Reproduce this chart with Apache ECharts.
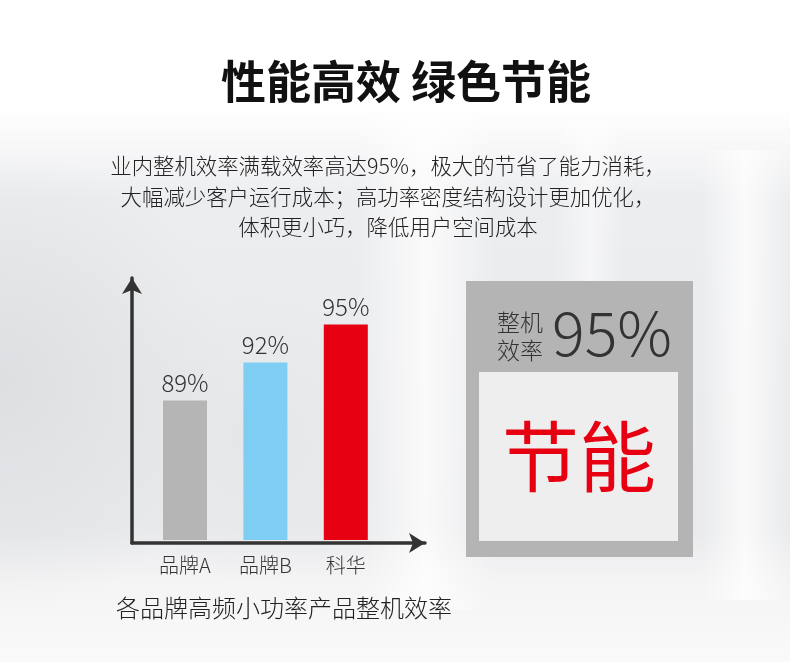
<!DOCTYPE html>
<html>
<head>
<meta charset="utf-8">
<script src="https://cdn.jsdelivr.net/npm/echarts@6/dist/echarts.min.js"></script>
<style>html,body{margin:0;padding:0;background:#fff}#c{width:790px;height:662px}</style>
</head>
<body>
<div id="c"></div>
<script>
var categories = ['品牌A', '品牌B', '科华'];
var efficiency = [89, 92, 95];
var barColors = ['#b5b5b5', '#7ecef4', '#e60012'];
var titleText = '性能高效 绿色节能';
var descLines = ['业内整机效率满载效率高达95%，极大的节省了能力消耗，', '大幅减少客户运行成本；高功率密度结构设计更加优化，', '体积更小巧，降低用户空间成本'];
var captionText = '各品牌高频小功率产品整机效率';
var badgeLabel = ['整机', '效率'];
var badgeValue = '95%';
var badgeWord = '节能';

var FONT = "'Noto Sans CJK SC','Noto Sans',sans-serif";
var chart = echarts.init(document.getElementById('c'), null, {renderer: 'canvas'});

function hStreak(x, y, w, h, a) {
  return {type: 'rect', z: -99, shape: {x: x, y: y, width: w, height: h}, style: {fill: new echarts.graphic.LinearGradient(0, 0, 1, 0, [
    {offset: 0, color: 'rgba(255,255,255,0)'}, {offset: 0.5, color: 'rgba(255,255,255,' + a + ')'}, {offset: 1, color: 'rgba(255,255,255,0)'}])}};
}
function blob(cx, cy, r, rgb, a) {
  return {type: 'rect', z: -99, shape: {x: cx - r, y: cy - r, width: 2 * r, height: 2 * r}, style: {fill: new echarts.graphic.RadialGradient(0.5, 0.5, 0.5, [
    {offset: 0, color: 'rgba(' + rgb + ',' + a + ')'}, {offset: 1, color: 'rgba(' + rgb + ',0)'}])}};
}
var bg = [
  {type: 'rect', z: -100, shape: {x: 0, y: 0, width: 790, height: 662}, style: {fill: new echarts.graphic.LinearGradient(0, 0, 0, 1, [
    {offset: 0, color: '#ffffff'}, {offset: 0.16, color: '#ffffff'}, {offset: 0.3, color: '#ecedef'},
    {offset: 0.8, color: '#e9eaec'}, {offset: 0.88, color: '#f4f4f5'}, {offset: 1, color: '#fafafa'}])}},
  blob(0, 380, 230, '218,219,222', 0.8),
  blob(250, 430, 150, '225,226,229', 0.5),
  hStreak(355, 110, 140, 500, 0.75),
  hStreak(700, 150, 90, 450, 0.75),
  hStreak(555, 120, 70, 180, 0.5)
];

var texts = [
  {type: 'text', z: 10, style: {text: titleText, x: 406, y: 82, textAlign: 'center', textVerticalAlign: 'middle', font: 'bold 45px ' + FONT, fill: '#111'}},
  {type: 'rect', z: 5, shape: {x: 466, y: 281, width: 227, height: 276}, style: {fill: '#b4b4b4'}},
  {type: 'rect', z: 6, shape: {x: 479, y: 372, width: 199, height: 169}, style: {fill: '#eeeeee'}},
  {type: 'text', z: 10, style: {text: badgeLabel[0], x: 497, y: 322, textAlign: 'left', textVerticalAlign: 'middle', font: '300 23px ' + FONT, fill: '#333'}},
  {type: 'text', z: 10, style: {text: badgeLabel[1], x: 497, y: 350, textAlign: 'left', textVerticalAlign: 'middle', font: '300 23px ' + FONT, fill: '#333'}},
  {type: 'text', z: 10, style: {text: badgeValue, x: 552, y: 333, textAlign: 'left', textVerticalAlign: 'middle', font: '300 61px ' + FONT, fill: '#333'}},
  {type: 'text', z: 10, style: {text: badgeWord, x: 579, y: 457, textAlign: 'center', textVerticalAlign: 'middle', font: '77px ' + FONT, fill: '#e60012'}},
  {type: 'text', z: 10, style: {text: captionText, x: 284, y: 608, textAlign: 'center', textVerticalAlign: 'middle', font: '300 24px ' + FONT, fill: '#222'}}
];
var lineY = [166, 196.5, 227];
descLines.forEach(function (t, i) {
  texts.push({type: 'text', z: 10, style: {text: t, x: 388, y: lineY[i], textAlign: 'center', textVerticalAlign: 'middle', font: '300 21.4px ' + FONT, fill: '#222'}});
});

chart.setOption({
  animation: false,
  backgroundColor: 'transparent',
  graphic: bg.concat(texts),
  grid: [
    {left: 144.8, top: 261, width: 241.2, bottom: 122},
    {left: 132, top: 278, right: 365, bottom: 119}
  ],
  xAxis: [
    {gridIndex: 0, type: 'category', data: categories, axisLine: {show: false}, axisTick: {show: false},
     axisLabel: {margin: 15, fontSize: 20, color: '#333', fontFamily: FONT, fontWeight: 300}},
    {gridIndex: 1, type: 'value', min: 0, max: 1, axisLine: {show: true, symbol: ['none', 'arrow'], symbolSize: [15, 16], lineStyle: {color: '#333', width: 3.5}},
     axisTick: {show: false}, axisLabel: {show: false}, splitLine: {show: false}}
  ],
  yAxis: [
    {gridIndex: 0, type: 'value', min: 78, max: 100, show: false},
    {gridIndex: 1, type: 'value', min: 0, max: 1, axisLine: {show: true, symbol: ['none', 'arrow'], symbolSize: [15, 16], lineStyle: {color: '#333', width: 3.5}},
     axisTick: {show: false}, axisLabel: {show: false}, splitLine: {show: false}}
  ],
  series: [{
    type: 'bar', xAxisIndex: 0, yAxisIndex: 0, barWidth: 44,
    data: efficiency.map(function (v, i) { return {value: v, itemStyle: {color: barColors[i]}}; }),
    label: {show: true, position: 'top', distance: 6, formatter: '{c}%', fontSize: 24, color: '#333', fontFamily: FONT, fontWeight: 300}
  }]
});
</script>
</body>
</html>
